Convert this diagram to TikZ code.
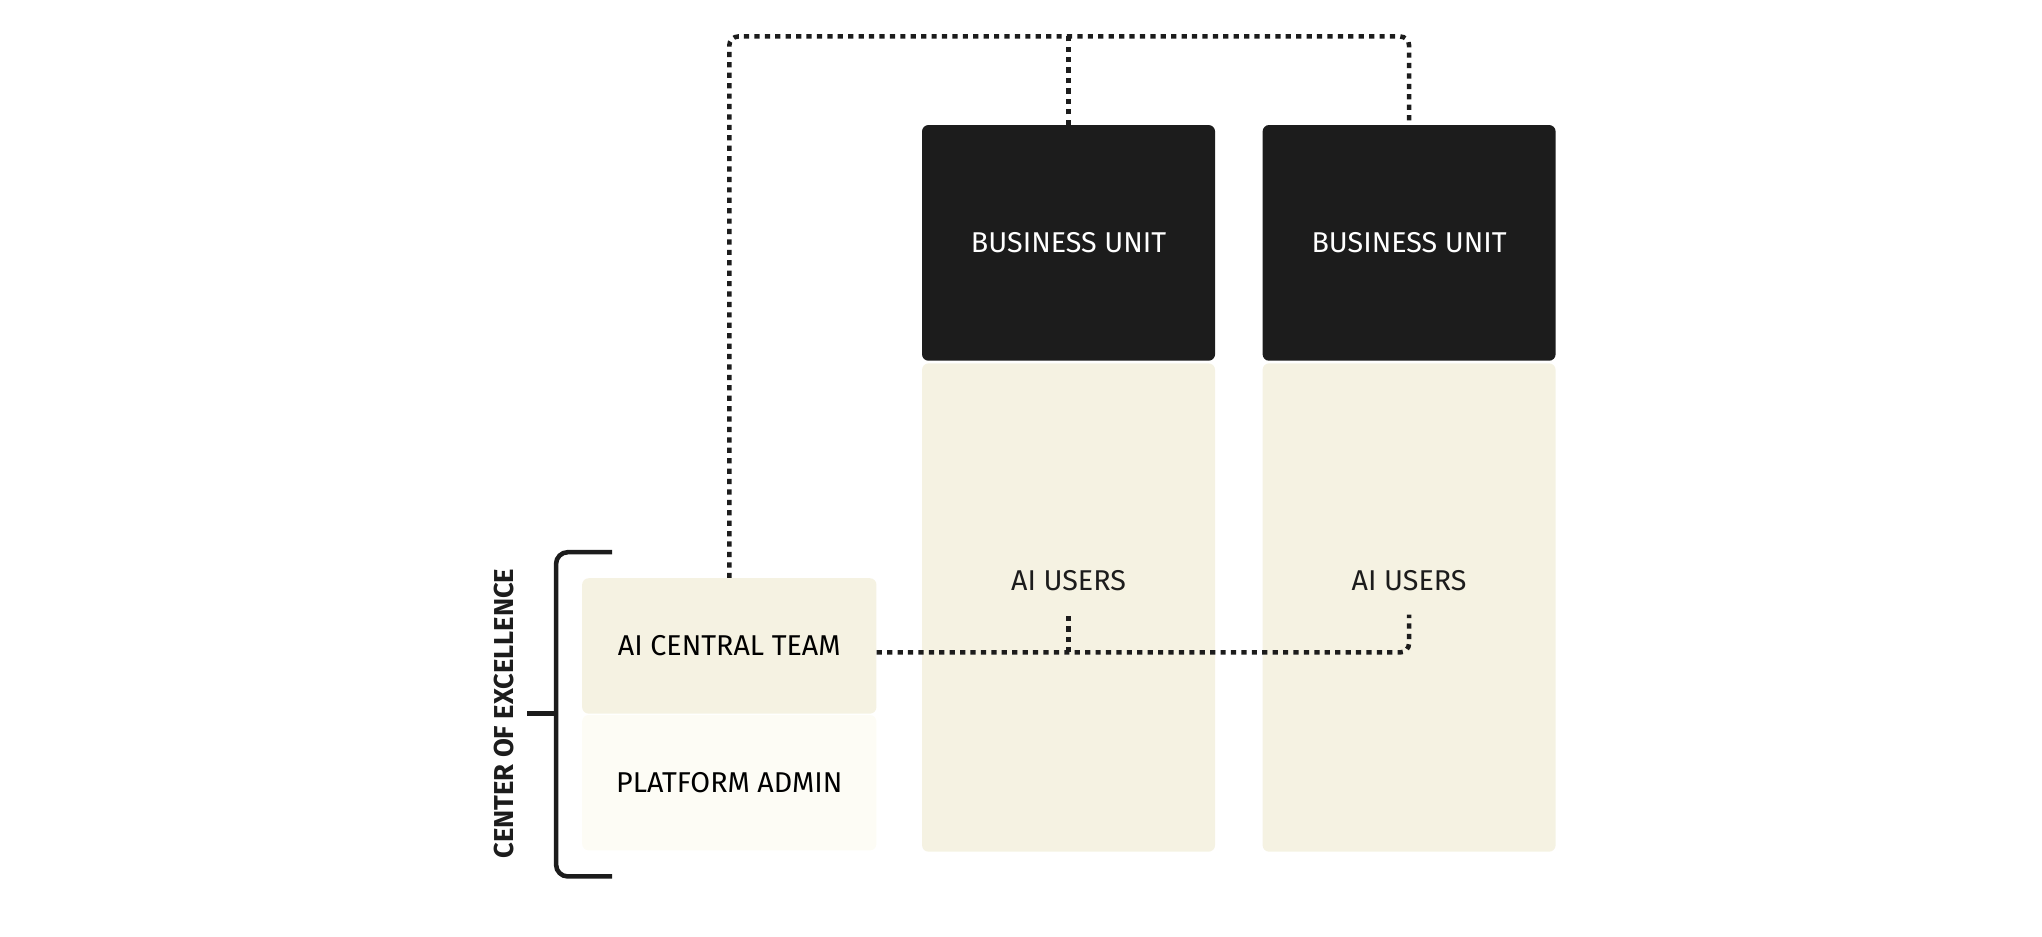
\documentclass[tikz,border=0pt]{standalone}
\usepackage{fontspec}
\setmainfont{Fira Sans}
\usetikzlibrary{positioning}
\definecolor{cream}{HTML}{F5F2E2}
\definecolor{paleCream}{HTML}{FDFCF5}
\definecolor{ink}{HTML}{1C1C1C}

\begin{document}
\begin{tikzpicture}[
		x=1pt, y=-1pt,
		unit/.style={
			rectangle,
			rounded corners=5pt,
			fill=ink,
			text=white,
			minimum width=225pt,
			minimum height=181pt,
			font=\fontsize{22}{26}\selectfont
		},
		column/.style={
			rectangle,
			rounded corners=5pt,
			fill=cream,
			minimum width=225pt,
			minimum height=375pt
		},
		team/.style={
			rectangle,
			rounded corners=5pt,
			fill=cream,
			minimum width=226pt,
			minimum height=104pt,
			font=\fontsize{22}{26}\selectfont
		},
		label/.style={
			text=ink,
			font=\fontsize{22}{26}\selectfont
		},
		link/.style={
			ink,
			line width=3.5pt,
			dash pattern=on 4pt off 4pt,
			rounded corners=7pt
		}]

	\useasboundingbox (0,0) rectangle (1568,719);

	%%% Business units and their columns
	\foreach [count=\i] \xc in {820.5, 1082} {
		\node [column] (col\i) at (\xc, 466.5) {};
		\node [unit] (unit\i) at (\xc, 186.5) {BUSINESS UNIT};
		\node [label] (users\i) at (\xc, 446) {AI USERS};
		\coordinate (top\i) at (\xc, 28);
		\coordinate (drop\i) at (\xc, 472);
		\coordinate (base\i) at (\xc, 501);
	};

	%%% Center of excellence
	\node [team] (central) at (560, 496) {AI CENTRAL TEAM};
	\node [team, fill=paleCream] (admin) at (560, 601) {PLATFORM ADMIN};

	\draw [ink, line width=3.5pt, rounded corners=9pt]
		(470,424) -- (427,424) -- (427,673) -- (470,673);
	\draw [ink, line width=3.5pt] (405,548) -- (427,548);
	\node [rotate=90, text=ink, font=\fontsize{21}{24}\selectfont\bfseries] (coe)
		at (387,548) {CENTER OF EXCELLENCE};

	%%% Dotted links
	\coordinate (topLeft) at (560,28);
	\draw [link] (central.north) -- (topLeft) -- (top2) -- (unit2.north);
	\draw [link] (unit1.north) -- (top1);
	\draw [link] (central.east |- base1) -- (base2) -- (drop2);
	\draw [link] (base1) -- (drop1);

\end{tikzpicture}
\end{document}
